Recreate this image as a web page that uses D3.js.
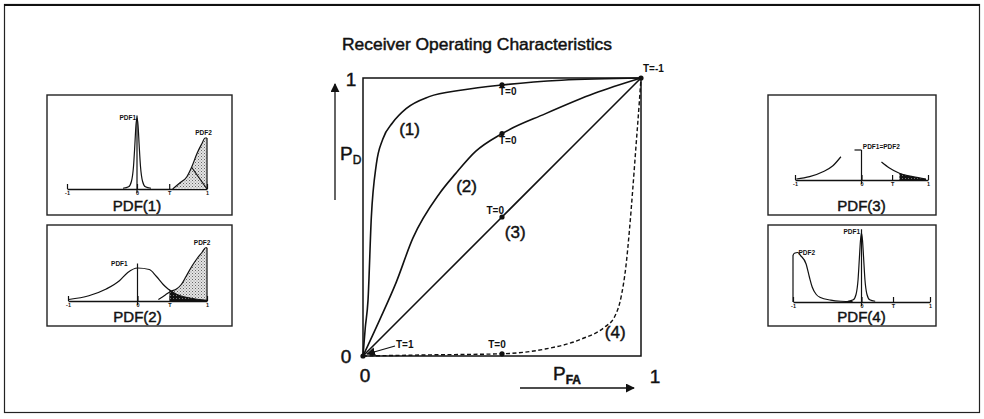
<!DOCTYPE html>
<html>
<head>
<meta charset="utf-8">
<script src="https://cdn.jsdelivr.net/npm/d3@7"></script>
<style>
  html, body { margin: 0; padding: 0; background: #fff; }
  svg { display: block; font-family: "Liberation Sans", Arial, sans-serif; }
  .heavy { stroke: #111; stroke-width: 0.45; paint-order: stroke; }
</style>
</head>
<body>
<svg id="fig" width="984" height="419"></svg>
<script>
// ---------------- data ----------------
// ROC curves as [P_FA, P_D] pairs
const roc1 = [[0,0],[0.008,0.1],[0.018,0.2],[0.03,0.5],[0.048,0.69],[0.071,0.78],[0.107,0.84],[0.155,0.89],[0.238,0.933],[0.357,0.957],[0.5,0.975],[0.714,0.992],[1,1]];
const roc2 = [[0,0],[0.06,0.13],[0.119,0.264],[0.179,0.423],[0.274,0.583],[0.333,0.656],[0.405,0.736],[0.5,0.80],[0.655,0.871],[0.833,0.945],[1,1]];
const roc3 = [[0,0],[0.5,0.5],[1,1]];
const roc4 = [[0,0],[0.238,0.004],[0.5,0.008],[0.655,0.025],[0.786,0.061],[0.869,0.104],[0.905,0.141],[0.929,0.215],[0.946,0.325],[0.958,0.448],[0.970,0.595],[0.982,0.755],[0.994,0.914],[1,1]];
const curveNames = ["(1)", "(2)", "(3)", "(4)"];

// operating points for individual thresholds
const opPoints = [
  { pfa: 0.5, pd: 0.975, label: "T=0" },
  { pfa: 0.5, pd: 0.80,  label: "T=0" },
  { pfa: 0.5, pd: 0.5,   label: "T=0" },
  { pfa: 0.5, pd: 0.008, label: "T=0" },
  { pfa: 0,   pd: 0,     label: "T=1" },
  { pfa: 1,   pd: 1,     label: "T=-1" }
];

// density panels: x in [-1, 1], threshold T
const pdfTicks = [-1, 0, 0.46, 1];
const pdfTickLabels = ["-1", "0", "T", "1"];
const panelNames = ["PDF(1)", "PDF(2)", "PDF(3)", "PDF(4)"];

// PDF(1): narrow PDF1 at 0, PDF2 piled up near +1
const p1Pdf1 = [[-0.2,0.01],[-0.12,0.03],[-0.08,0.1],[-0.05,0.3],[-0.03,0.6],[-0.015,0.85],[0,0.95],[0.015,0.85],[0.03,0.6],[0.05,0.3],[0.08,0.1],[0.12,0.03],[0.2,0.01]];
const p1Pdf2 = [[0.51,0],[0.61,0.08],[0.71,0.16],[0.78,0.29],[0.86,0.48],[0.93,0.61],[0.97,0.68],[1,0.68]];
const p1Split = [[0.78,0.29],[1,0]];

// PDF(2): broad PDF1, PDF2 near +1
const p2Pdf1 = [[-0.99,0.02],[-0.7,0.07],[-0.45,0.16],[-0.26,0.27],[-0.14,0.38],[0,0.44],[0.17,0.42],[0.27,0.33],[0.37,0.22],[0.44,0.16],[0.56,0.09],[0.75,0.04],[1,0.01]];
const p2Pdf2 = [[0.3,0.02],[0.4,0.08],[0.48,0.13],[0.56,0.16],[0.63,0.22],[0.7,0.33],[0.78,0.46],[0.86,0.57],[0.93,0.65],[0.98,0.71],[1,0.71]];

// PDF(3): identical densities, drawn as two branches
const p3Left  = [[-0.98,0.013],[-0.78,0.044],[-0.58,0.11],[-0.43,0.19],[-0.31,0.31]];
const p3Right = [[0.30,0.24],[0.42,0.16],[0.57,0.09],[0.77,0.044],[0.97,0.013]];

// PDF(4): PDF2 piled up near -1, narrow PDF1 at 0
const p4Pdf1 = [[-0.2,0.01],[-0.12,0.03],[-0.08,0.1],[-0.05,0.3],[-0.03,0.6],[-0.015,0.82],[0,0.92],[0.015,0.82],[0.03,0.6],[0.05,0.3],[0.08,0.1],[0.12,0.03],[0.2,0.01]];
const p4Pdf2 = [[-1,0],[-1,0.62],[-0.98,0.65],[-0.93,0.66],[-0.89,0.62],[-0.81,0.51],[-0.76,0.33],[-0.72,0.2],[-0.66,0.1],[-0.6,0.06],[-0.45,0.025],[-0.3,0.01],[-0.13,0.005]];

// ---------------- drawing ----------------
const svg = d3.select("#fig");
const defs = svg.append("defs");

// light stipple for the detection area
const stip = defs.append("pattern").attr("id", "stipple")
  .attr("width", 3).attr("height", 3).attr("patternUnits", "userSpaceOnUse");
stip.append("rect").attr("width", 3).attr("height", 3).attr("fill", "#e4e4e4");
stip.append("rect").attr("width", 1).attr("height", 1).attr("fill", "#666");
stip.append("rect").attr("x", 1.5).attr("y", 1.5).attr("width", 1).attr("height", 1).attr("fill", "#888");

// dark fill for the false-alarm area
const dark = defs.append("pattern").attr("id", "darkfill")
  .attr("width", 3).attr("height", 3).attr("patternUnits", "userSpaceOnUse");
dark.append("rect").attr("width", 3).attr("height", 3).attr("fill", "#111");
dark.append("rect").attr("x", 2).attr("y", 1).attr("width", 1).attr("height", 1).attr("fill", "#777");

defs.append("marker").attr("id", "arrow")
  .attr("viewBox", "0 0 10 10").attr("refX", 9).attr("refY", 5)
  .attr("markerWidth", 9).attr("markerHeight", 9).attr("markerUnits", "userSpaceOnUse")
  .attr("orient", "auto")
  .append("path").attr("d", "M0,0 L10,5 L0,10 Z").attr("fill", "#111");

// outer frame
svg.append("rect").attr("x", 4.5).attr("y", 4.5).attr("width", 975).attr("height", 408)
  .attr("fill", "none").attr("stroke", "#222").attr("stroke-width", 1.2);
svg.append("line").attr("x1", 4).attr("x2", 980).attr("y1", 5).attr("y2", 5)
  .attr("stroke", "#111").attr("stroke-width", 2);

// title
svg.append("text").attr("class", "heavy").attr("x", 477).attr("y", 50).attr("text-anchor", "middle")
  .attr("font-size", 16).attr("fill", "#111")
  .attr("textLength", 270).attr("lengthAdjust", "spacingAndGlyphs")
  .text("Receiver Operating Characteristics");

// ---- ROC plot ----
const x = d3.scaleLinear().domain([0, 1]).range([363, 641]);
const y = d3.scaleLinear().domain([0, 1]).range([356, 78]);
const roc = svg.append("g");

roc.append("rect").attr("x", x(0)).attr("y", y(1))
  .attr("width", x(1) - x(0)).attr("height", y(0) - y(1))
  .attr("fill", "none").attr("stroke", "#111").attr("stroke-width", 1.5);

const rocLine = d3.line().x(d => x(d[0])).y(d => y(d[1])).curve(d3.curveMonotoneX);
[roc1, roc2, roc3].forEach(c => {
  roc.append("path").attr("d", rocLine(c)).attr("fill", "none")
    .attr("stroke", "#111").attr("stroke-width", 1.6);
});
roc.append("path").attr("d", rocLine(roc4)).attr("fill", "none")
  .attr("stroke", "#111").attr("stroke-width", 1.4).attr("stroke-dasharray", "4,2.5");

// curve names, anchored in plot units
const nameAnchors = [[0.13, 0.795], [0.335, 0.59], [0.51, 0.425], [0.87, 0.065]];
curveNames.forEach((n, i) => {
  roc.append("text").attr("class", "heavy").attr("x", x(nameAnchors[i][0])).attr("y", y(nameAnchors[i][1]))
    .attr("font-size", 17).attr("fill", "#111").text(n);
});

// operating points
const opOffsets = [[-3, 10, "start"], [-3, 10, "start"], [2, -3, "end"], [-5, -6, "middle"], [33, -8, "start"], [2, -6, "start"]];
opPoints.forEach((p, i) => {
  roc.append("circle").attr("cx", x(p.pfa)).attr("cy", y(p.pd)).attr("r", 2.6).attr("fill", "#111");
  const o = opOffsets[i];
  roc.append("text").attr("x", x(p.pfa) + o[0]).attr("y", y(p.pd) + o[1])
    .attr("text-anchor", o[2]).attr("font-size", 10).attr("font-weight", "bold")
    .attr("fill", "#111").text(p.label);
});
// leader from the T=1 label to the origin
roc.append("line").attr("x1", x(0) + 32).attr("y1", y(0) - 10)
  .attr("x2", x(0) + 4).attr("y2", y(0) - 2)
  .attr("stroke", "#111").attr("stroke-width", 1.2).attr("marker-end", "url(#arrow)");

// axis end values
const axisFont = 19;
const endLabel = (xx, yy, t) => roc.append("text").attr("class", "heavy")
  .attr("x", xx).attr("y", yy).attr("text-anchor", "middle")
  .attr("font-size", axisFont).attr("fill", "#111").text(t);
endLabel(x(0) - 12, y(1) + 8, "1");
endLabel(x(0) - 17, y(0) + 7, "0");
endLabel(x(0) + 2, y(0) + 26, "0");
endLabel(x(1) + 14, y(0) + 27, "1");

// P_D and P_FA with arrows
const pd = roc.append("text").attr("class", "heavy").attr("x", 340).attr("y", 160).attr("font-size", 19).attr("fill", "#111");
pd.append("tspan").text("P");
pd.append("tspan").attr("font-size", 12).attr("dy", 4).text("D");
roc.append("line").attr("x1", 335).attr("x2", 335).attr("y1", 200).attr("y2", 84)
  .attr("stroke", "#111").attr("stroke-width", 1.3).attr("marker-end", "url(#arrow)");

const pfa = roc.append("text").attr("class", "heavy").attr("x", 553).attr("y", 380).attr("font-size", 19).attr("fill", "#111");
pfa.append("tspan").text("P");
pfa.append("tspan").attr("font-size", 12).attr("font-weight", "bold").attr("dy", 4).text("FA");
roc.append("line").attr("x1", 520).attr("x2", 634).attr("y1", 388).attr("y2", 388)
  .attr("stroke", "#111").attr("stroke-width", 1.4).attr("marker-end", "url(#arrow)");

// ---- density panels ----
const panelLayout = [
  { box: [47, 95, 232, 215],  axisY: 189, xr: [67, 207] },
  { box: [47, 225, 232, 326], axisY: 301, xr: [68, 207] },
  { box: [768, 95, 936, 215], axisY: 180, xr: [795, 928] },
  { box: [768, 225, 936, 326], axisY: 302, xr: [793, 930] }
];

function makePanel(i) {
  const L = panelLayout[i];
  const g = svg.append("g");
  const px = d3.scaleLinear().domain([-1, 1]).range(L.xr);
  const py = d3.scaleLinear().domain([0, 1]).range([L.axisY, L.axisY - 75]);
  g.append("rect").attr("x", L.box[0]).attr("y", L.box[1])
    .attr("width", L.box[2] - L.box[0]).attr("height", L.box[3] - L.box[1])
    .attr("fill", "#fff").attr("stroke", "#222").attr("stroke-width", 1.4);
  const axis = d3.axisBottom(px).tickValues(pdfTicks)
    .tickFormat((d, k) => pdfTickLabels[k]).tickSizeInner(-5).tickSizeOuter(0).tickPadding(2);
  const ax = g.append("g").attr("transform", `translate(0,${L.axisY})`).call(axis);
  ax.select(".domain").attr("stroke", "#111").attr("stroke-width", 1.3);
  ax.selectAll(".tick line").attr("stroke", "#111").attr("stroke-width", 1.2);
  ax.selectAll(".tick text").attr("font-size", 5.5).attr("font-weight", "bold").attr("fill", "#111");
  g.append("text").attr("class", "heavy").attr("x", px(0)).attr("y", L.box[3] - 4).attr("text-anchor", "middle")
    .attr("font-size", 15).attr("fill", "#111").text(panelNames[i]);
  return { g, px, py };
}

const ln = (px, py) => d3.line().x(d => px(d[0])).y(d => py(d[1])).curve(d3.curveMonotoneX);
const ar = (px, py) => d3.area().x(d => px(d[0])).y0(py(0)).y1(d => py(d[1])).curve(d3.curveMonotoneX);
const stroke = sel => sel.attr("fill", "none").attr("stroke", "#111").attr("stroke-width", 1.2);
const tiny = (g, xx, yy, t, anchor) => g.append("text").attr("x", xx).attr("y", yy)
  .attr("text-anchor", anchor || "start").attr("font-size", 6.5).attr("font-weight", "bold")
  .attr("fill", "#111").text(t);
const T = pdfTicks[2];

// PDF(1)
{
  const { g, px, py } = makePanel(0);
  const tail = p1Pdf2.filter(d => d[0] >= T);
  g.append("path").attr("d", ar(px, py)([[T, 0], ...tail, [1, 0]]))
    .attr("fill", "url(#stipple)");
  g.append("path").attr("d", ln(px, py)(p1Pdf2)).call(stroke);
  g.append("line").attr("x1", px(1)).attr("x2", px(1)).attr("y1", py(p1Pdf2[p1Pdf2.length - 1][1])).attr("y2", py(0))
    .attr("stroke", "#111").attr("stroke-width", 1.2);
  g.append("path").attr("d", d3.line().x(d => px(d[0])).y(d => py(d[1]))(p1Split)).call(stroke);
  g.append("path").attr("d", ln(px, py)(p1Pdf1)).call(stroke);
  g.append("line").attr("x1", px(0)).attr("x2", px(0)).attr("y1", py(0.98)).attr("y2", py(0) + 4)
    .attr("stroke", "#111").attr("stroke-width", 1.2);
  tiny(g, px(0) - 1, py(0.92), "PDF1", "end");
  tiny(g, px(0.95), py(0.72), "PDF2", "middle");
}

// PDF(2)
{
  const { g, px, py } = makePanel(1);
  const tail2 = p2Pdf2.filter(d => d[0] >= T);
  g.append("path").attr("d", ar(px, py)([[T, 0], [T, 0.125], ...tail2, [1, 0]]))
    .attr("fill", "url(#stipple)");
  const tail1 = p2Pdf1.filter(d => d[0] >= T);
  g.append("path").attr("d", ar(px, py)([[T, 0.16], ...tail1])).attr("fill", "url(#darkfill)");
  g.append("path").attr("d", ln(px, py)(p2Pdf1)).call(stroke);
  g.append("path").attr("d", ln(px, py)(p2Pdf2)).call(stroke);
  g.append("line").attr("x1", px(1)).attr("x2", px(1)).attr("y1", py(p2Pdf2[p2Pdf2.length - 1][1])).attr("y2", py(0))
    .attr("stroke", "#111").attr("stroke-width", 1.2);
  g.append("line").attr("x1", px(0)).attr("x2", px(0)).attr("y1", py(0.5)).attr("y2", py(0) + 4)
    .attr("stroke", "#111").attr("stroke-width", 1.2);
  tiny(g, px(-0.38), py(0.47), "PDF1", "start");
  tiny(g, px(0.93), py(0.75), "PDF2", "middle");
}

// PDF(3)
{
  const { g, px, py } = makePanel(2);
  const tail = p3Right.filter(d => d[0] >= T);
  g.append("path").attr("d", ar(px, py)(tail)).attr("fill", "url(#darkfill)");
  g.append("path").attr("d", ln(px, py)(p3Left)).call(stroke);
  g.append("path").attr("d", ln(px, py)(p3Right)).call(stroke);
  g.append("line").attr("x1", px(0)).attr("x2", px(0)).attr("y1", py(0.4)).attr("y2", py(0) + 4)
    .attr("stroke", "#111").attr("stroke-width", 1.2);
  g.append("line").attr("x1", px(0) - 7).attr("x2", px(0)).attr("y1", py(0.4)).attr("y2", py(0.4))
    .attr("stroke", "#111").attr("stroke-width", 1.2);
  tiny(g, px(0.02), py(0.41), "PDF1=PDF2", "start");
}

// PDF(4)
{
  const { g, px, py } = makePanel(3);
  g.append("path").attr("d", ln(px, py)(p4Pdf2)).call(stroke);
  g.append("path").attr("d", ln(px, py)(p4Pdf1)).call(stroke);
  g.append("line").attr("x1", px(0)).attr("x2", px(0)).attr("y1", py(0.97)).attr("y2", py(0) + 4)
    .attr("stroke", "#111").attr("stroke-width", 1.2);
  tiny(g, px(-0.02), py(0.91), "PDF1", "end");
  tiny(g, px(-0.92), py(0.63), "PDF2", "start");
}
</script>
</body>
</html>
